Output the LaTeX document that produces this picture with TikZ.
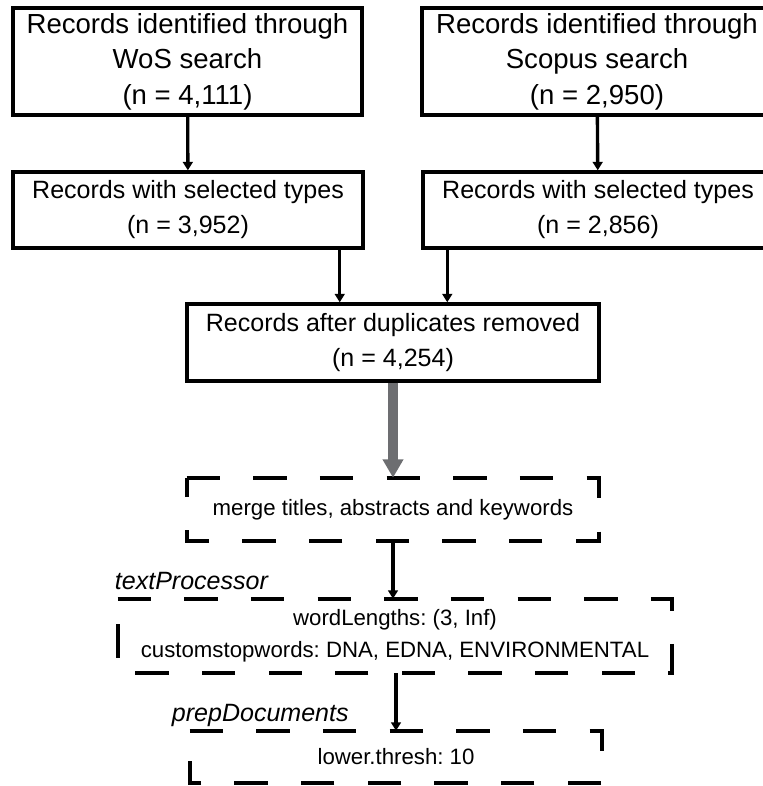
\documentclass[tikz,border=0pt]{standalone}
\usepackage{fontspec}
\setmainfont{Liberation Sans}
\usepackage{tikz}
\usetikzlibrary{arrows.meta,calc}
\definecolor{arrgrey}{HTML}{6D6E71}
\frenchspacing

\begin{document}
\begin{tikzpicture}[x=0.025cm,y=0.025cm,
  box/.style={draw,line width=2.4pt,align=center,inner sep=0pt,font=\fontsize{17.8}{24.9}\selectfont},
  bigbox/.style={box,font=\fontsize{19.6}{25.2}\selectfont},
  dbox/.style={align=center,inner sep=0pt,font=\fontsize{15.8}{22.8}\selectfont},
  dsh/.style={line width=2.8pt,dash pattern=on 23.7pt off 23.7pt},
  lbl/.style={font=\fontsize{17.8}{21}\selectfont\itshape,inner sep=0pt,anchor=base west},
  arr/.style={-{Triangle[width=7pt,length=6pt]},line width=2.4pt},
  garr/.style={-{Triangle[width=14pt,length=13pt]},line width=7pt,draw=arrgrey}]
\useasboundingbox (0,0) rectangle (762,-786);

\node[bigbox,minimum width=8.725cm,minimum height=2.675cm] (wos) at (187.5,-61.5) {Records identified through\\WoS search\\(n = 4,111)};
\node[bigbox,minimum width=8.75cm,minimum height=2.675cm] (sco) at (597,-61.5) {Records identified through\\Scopus search\\(n = 2,950)};
\node[box,minimum width=8.75cm,minimum height=1.9cm] (wossel) at (188,-210) {Records with selected types\\(n = 3,952)};
\node[box,minimum width=8.75cm,minimum height=1.9cm] (scosel) at (598,-210) {Records with selected types\\(n = 2,856)};
\node[box,minimum width=10.3cm,minimum height=1.925cm] (dup) at (393,-342.5) {Records after duplicates removed\\(n = 4,254)};
\node[dbox,minimum width=10.3cm,minimum height=1.575cm] (merge) at (393,-509.5) {merge titles, abstracts and keywords};
\node[dbox,minimum width=13.85cm,minimum height=1.85cm] (tp) at (395,-636) {wordLengths: (3, Inf)\\customstopwords: DNA, EDNA, ENVIRONMENTAL};
\node[dbox,minimum width=10.3cm,minimum height=1.3cm] (prep) at (396,-757) {lower.thresh: 10};

% dashed outlines, started at the top left corner
\draw[dsh] (merge.north west) -- (merge.north east) -- (merge.south east) -- (merge.south west) -- cycle;
\draw[dsh] (tp.north west) -- (tp.north east) -- (tp.south east) -- (tp.south west) -- cycle;
\draw[dsh] (prep.north west) -- (prep.north east) -- (prep.south east) -- (prep.south west) -- cycle;

\node[lbl] (tplbl) at ($(tp.north west)+(-3,9)$) {textProcessor};
\node[lbl] (preplbl) at ($(prep.north west)+(-18,9)$) {prepDocuments};

\draw[arr] (wos)--(wossel);
\draw[arr] (sco)--(scosel);
\draw[arr] ($(wossel.south east)+(-25,0)$) coordinate (w1) -- (w1 |- dup.north);
\draw[arr] ($(scosel.south west)+(26,0)$) coordinate (s1) -- (s1 |- dup.north);
\draw[garr] (dup)--(merge);
\draw[arr] (merge)--(merge.south |- tp.north);
\draw[arr] (tp.south -| prep.north)--(prep);
\end{tikzpicture}
\end{document}
